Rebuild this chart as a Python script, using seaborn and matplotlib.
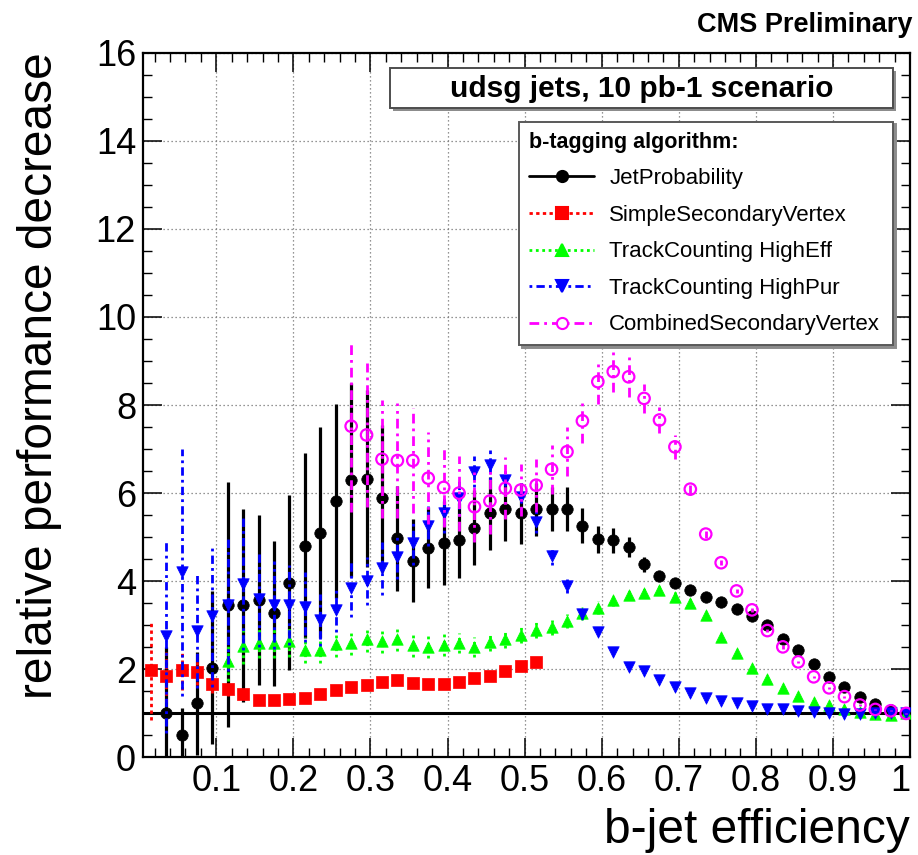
import numpy as np
import matplotlib
matplotlib.use("Agg")
import matplotlib.pyplot as plt
from matplotlib.lines import Line2D
from matplotlib.patches import Rectangle
from matplotlib.ticker import MultipleLocator
import seaborn as sns

nan = np.nan

# b-jet efficiency (bin centres)
eff = [0.015, 0.035, 0.055, 0.075, 0.095, 0.115, 0.135, 0.155, 0.175, 0.195,
       0.215, 0.235, 0.255, 0.275, 0.295, 0.315, 0.335, 0.355, 0.375, 0.395,
       0.415, 0.435, 0.455, 0.475, 0.495, 0.515, 0.535, 0.555, 0.575, 0.595,
       0.615, 0.635, 0.655, 0.675, 0.695, 0.715, 0.735, 0.755, 0.775, 0.795,
       0.815, 0.835, 0.855, 0.875, 0.895, 0.915, 0.935, 0.955, 0.975, 0.995]

# JetProbability
jp = [nan, 1.00, 0.51, 1.23, 2.04, 3.47, 3.45, 3.58, 3.27, 3.97,
      4.80, 5.10, 5.83, 6.30, 6.33, 5.88, 4.97, 4.47, 4.76, 4.86,
      4.93, 5.21, 5.54, 5.63, 5.54, 5.63, 5.65, 5.65, 5.26, 4.95,
      4.93, 4.78, 4.38, 4.12, 3.97, 3.80, 3.65, 3.53, 3.36, 3.22,
      3.00, 2.68, 2.45, 2.11, 1.83, 1.60, 1.38, 1.21, 1.08, 1.00]
jp_err = [nan, 1.50, 0.62, 1.17, 1.73, 2.78, 2.20, 1.93, 1.64, 1.98,
          2.10, 2.40, 2.20, 2.20, 2.00, 1.67, 1.20, 0.94, 0.92, 0.95,
          0.85, 0.85, 0.83, 0.72, 0.70, 0.60, 0.50, 0.50, 0.40, 0.30,
          0.28, 0.22, 0.18, 0.12, 0.10, 0.08, 0.07, 0.06, 0.06, 0.05,
          0.05, 0.05, 0.04, 0.04, 0.03, 0.03, 0.03, 0.02, 0.02, 0.01]

# SimpleSecondaryVertex
ssv = [1.98, 1.85, 1.98, 1.94, 1.66, 1.55, 1.44, 1.30, 1.30, 1.32,
       1.34, 1.45, 1.53, 1.60, 1.64, 1.72, 1.76, 1.68, 1.66, 1.66,
       1.72, 1.80, 1.85, 1.96, 2.07, 2.16, nan, nan, nan, nan,
       nan, nan, nan, nan, nan, nan, nan, nan, nan, nan,
       nan, nan, nan, nan, nan, nan, nan, nan, nan, nan]
ssv_err = [1.12, 0.60, 0.45, 0.30, 0.20, 0.15, 0.12, 0.10, 0.10, 0.10,
           0.10, 0.10, 0.10, 0.10, 0.09, 0.09, 0.09, 0.09, 0.09, 0.09,
           0.08, 0.08, 0.08, 0.08, 0.08, 0.08, nan, nan, nan, nan,
           nan, nan, nan, nan, nan, nan, nan, nan, nan, nan,
           nan, nan, nan, nan, nan, nan, nan, nan, nan, nan]

# TrackCounting HighEff
tche = [nan, nan, nan, nan, nan, 2.19, 2.53, 2.60, 2.60, 2.64,
        2.44, 2.44, 2.57, 2.60, 2.68, 2.65, 2.68, 2.55, 2.50, 2.56,
        2.60, 2.51, 2.63, 2.68, 2.79, 2.89, 2.95, 3.10, 3.27, 3.40,
        3.57, 3.69, 3.74, 3.80, 3.65, 3.50, 3.23, 2.73, 2.36, 2.02,
        1.77, 1.57, 1.39, 1.26, 1.19, 1.09, 1.04, 0.98, 0.97, 1.00]
tche_err = [nan, nan, nan, nan, nan, 0.45, 0.40, 0.35, 0.35, 0.35,
            0.30, 0.30, 0.30, 0.28, 0.28, 0.27, 0.27, 0.26, 0.25, 0.25,
            0.23, 0.22, 0.22, 0.20, 0.20, 0.18, 0.17, 0.16, 0.15, 0.14,
            0.13, 0.12, 0.11, 0.10, 0.10, 0.09, 0.08, 0.08, 0.07, 0.06,
            0.06, 0.05, 0.05, 0.04, 0.04, 0.03, 0.03, 0.02, 0.02, 0.01]

# TrackCounting HighPur
tchp = [nan, 2.75, 4.20, 2.87, 3.20, 3.47, 3.93, 3.60, 3.47, 3.46,
        3.42, 3.12, 3.35, 3.84, 4.00, 4.29, 4.56, 4.86, 5.25, 5.54,
        5.88, 6.49, 6.64, 6.30, 5.92, 5.35, 4.57, 3.89, 3.25, 2.85,
        2.40, 2.06, 1.97, 1.76, 1.60, 1.46, 1.36, 1.28, 1.23, 1.17,
        1.11, 1.09, 1.06, 1.03, 1.00, 0.98, 0.98, 1.00, 1.00, 1.00]
tchp_err = [nan, 2.20, 2.80, 1.30, 1.60, 1.50, 1.50, 1.10, 1.00, 0.90,
            0.80, 0.60, 0.50, 0.65, 0.55, 0.60, 0.50, 0.50, 0.45, 0.45,
            0.40, 0.35, 0.35, 0.30, 0.30, 0.25, 0.20, 0.15, 0.10, 0.08,
            0.07, 0.06, 0.05, 0.05, 0.04, 0.04, 0.03, 0.03, 0.03, 0.02,
            0.02, 0.02, 0.02, 0.02, 0.02, 0.02, 0.01, 0.01, 0.01, 0.01]

# CombinedSecondaryVertex
csv = [nan, nan, nan, nan, nan, nan, nan, nan, nan, nan,
       nan, nan, nan, 7.52, 7.32, 6.77, 6.74, 6.74, 6.34, 6.13,
       6.00, 5.69, 5.82, 6.11, 6.07, 6.18, 6.54, 6.94, 7.64, 8.53,
       8.76, 8.64, 8.15, 7.66, 7.05, 6.09, 5.07, 4.42, 3.78, 3.35,
       2.88, 2.51, 2.17, 1.83, 1.58, 1.38, 1.19, 1.09, 1.06, 1.00]
csv_err = [nan, nan, nan, nan, nan, nan, nan, nan, nan, nan,
           nan, nan, nan, 1.95, 1.63, 1.34, 1.30, 1.20, 1.05, 0.90,
           0.85, 0.80, 0.75, 0.70, 0.60, 0.60, 0.55, 0.55, 0.50, 0.50,
           0.47, 0.45, 0.32, 0.30, 0.27, 0.10, 0.08, 0.06, 0.05, 0.05,
           0.04, 0.04, 0.03, 0.03, 0.03, 0.02, 0.02, 0.02, 0.01, 0.01]

x_ticks = [0.1, 0.2, 0.3, 0.4, 0.5, 0.6, 0.7, 0.8, 0.9, 1.0]
x_tick_labels = ["0.1", "0.2", "0.3", "0.4", "0.5", "0.6", "0.7", "0.8", "0.9", "1"]
y_ticks = [0, 2, 4, 6, 8, 10, 12, 14, 16]

# name, values, errors, colour, marker, error line style, error line width
series = [
    ("JetProbability", jp, jp_err, "#000000", "o", "-", 2.3),
    ("SimpleSecondaryVertex", ssv, ssv_err, "#ff0000", "s", (0, (1.2, 1.2)), 2.0),
    ("TrackCounting HighEff", tche, tche_err, "#00ff00", "^", (0, (1, 1.3)), 2.0),
    ("TrackCounting HighPur", tchp, tchp_err, "#0000ff", "v", (0, (1, 1.5, 3, 1.5)), 2.0),
    ("CombinedSecondaryVertex", csv, csv_err, "#ff00ff", "o", (0, (3.5, 1.8, 1, 1.8)), 2.0),
]

sns.set_style("ticks")
plt.rcParams["font.family"] = ["Liberation Sans", "DejaVu Sans"]
plt.rcParams["text.color"] = "black"
plt.rcParams["axes.labelcolor"] = "black"
plt.rcParams["xtick.color"] = "black"
plt.rcParams["ytick.color"] = "black"

fig = plt.figure(figsize=(9.18, 8.55), dpi=100)
ax = fig.add_axes([0.1558, 0.1141, 0.8355, 0.8244])

ax.axhline(1.0, color="black", lw=2.2, zorder=2)

handles = []
for k, (name, vals, errs, col, mk, ls, lw) in enumerate(series):
    eb = ax.errorbar(eff, vals, yerr=errs, fmt="none", ecolor=col,
                     elinewidth=lw, capsize=0, zorder=3 + 2 * k)
    eb.lines[2][0].set_linestyle(ls)
    if name == "CombinedSecondaryVertex":
        sns.scatterplot(x=eff, y=vals, ax=ax, marker=mk, s=68, facecolor="none",
                        edgecolor=col, linewidth=1.6, zorder=4 + 2 * k)
        face = "white"
    else:
        sns.scatterplot(x=eff, y=vals, ax=ax, marker=mk, s=68, color=col,
                        edgecolor=col, linewidth=0.5, zorder=4 + 2 * k)
        face = col
    line_ls = ls if k > 0 else "-"
    handles.append(Line2D([0], [0], color=col, ls=line_ls, lw=2.0, marker=mk,
                          ms=8, mfc=face, mec=col, mew=1.5))

ax.set_xlim(0.005, 1.0)
ax.set_ylim(0, 16)
ax.set_xticks(x_ticks, x_tick_labels)
ax.set_yticks(y_ticks)
ax.xaxis.set_minor_locator(MultipleLocator(0.02))
ax.yaxis.set_minor_locator(MultipleLocator(0.5))
ax.tick_params(which="both", direction="in", top=True, right=True, color="black")
ax.tick_params(which="major", length=14, width=1.1, labelsize=26, pad=5,
               labelcolor="black")
ax.tick_params(which="minor", length=6.5, width=1.0)
ax.get_xticklabels()[-1].set_horizontalalignment("right")
ax.grid(True, which="major", color="0.45", linestyle=(0, (1, 2.2)), lw=0.9)
for sp in ax.spines.values():
    sp.set_linewidth(1.6)
    sp.set_color("black")

ax.set_xlabel("b-jet efficiency", fontsize=34.5, loc="right", color="black")
ax.xaxis.set_label_coords(1.0, -0.072)
ax.set_ylabel("relative performance decrease", fontsize=34.5, loc="top", color="black")
ax.yaxis.set_label_coords(-0.106, 1.0)

# scenario box
ax.add_patch(Rectangle((0.326, 0.9165), 0.656, 0.0568, transform=ax.transAxes,
                       facecolor="0.55", edgecolor="none", zorder=30, clip_on=False))
ax.add_patch(Rectangle((0.322, 0.9207), 0.656, 0.0568, transform=ax.transAxes,
                       facecolor="white", edgecolor="0.3", lw=1.4, zorder=31, clip_on=False))
ax.text(0.650, 0.949, "udsg jets, 10 pb-1 scenario", transform=ax.transAxes,
        ha="center", va="center", fontsize=21.5, fontweight="bold", zorder=32)

leg = ax.legend(handles, [s[0] for s in series], title="b-tagging algorithm:",
                loc="upper left", bbox_to_anchor=(0.490, 0.902, 0.488, 0.0),
                mode="expand", borderaxespad=0, fontsize=16,
                title_fontproperties={"weight": "bold", "size": 15.5},
                alignment="left", frameon=True, fancybox=False, edgecolor="0.35",
                framealpha=1, shadow={"color": "0.55", "alpha": 1},
                handlelength=2.95, handletextpad=0.67, labelspacing=0.70,
                borderpad=0.45)
leg.get_frame().set_linewidth(1.4)
leg.set_zorder(40)

fig.text(0.9935, 0.971, "CMS Preliminary", ha="right", va="center",
         fontsize=19.5, fontweight="bold")

fig.savefig("out.png", dpi=100, facecolor="white")
